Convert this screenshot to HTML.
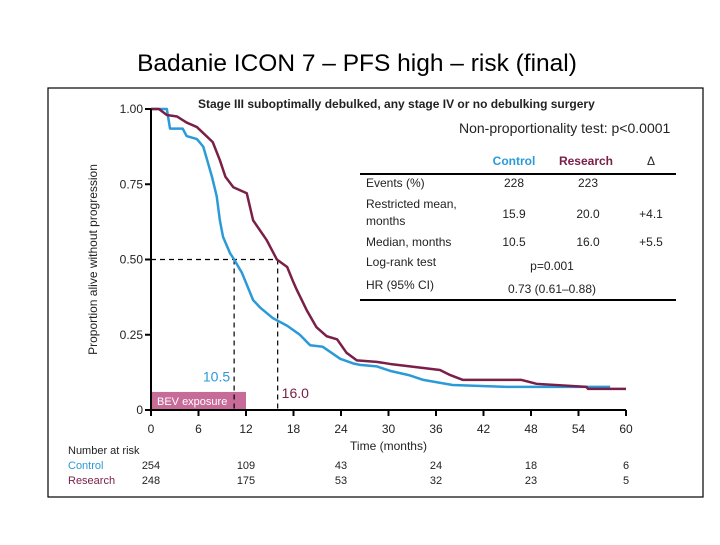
<!DOCTYPE html>
<html><head><meta charset="utf-8"><style>
body{margin:0;background:#fff;width:720px;height:540px;overflow:hidden;font-family:"Liberation Sans",Arial,sans-serif}
svg text{font-family:"Liberation Sans",Arial,sans-serif}
</style></head><body>
<svg id="c" width="720" height="540">
<text x="357" y="71" text-anchor="middle" font-size="24.5" fill="#000">Badanie ICON 7 – PFS high – risk (final)</text>
<rect x="48" y="88" width="655" height="409" fill="none" stroke="#000" stroke-width="1.2"/>
<g id="plot"></g>
</svg>
<script>
const xTicks=[0,6,12,18,24,30,36,42,48,54,60];
const yTicks=[0,0.25,0.5,0.75,1.0];
const yTickLabels=["0","0.25","0.50","0.75","1.00"];
const controlT=[0,2.0,2.4,4.0,4.5,5.8,6.6,7.1,7.7,8.3,8.7,9.1,10.0,10.5,11.5,12.9,13.8,15.4,17.2,18.8,20.1,21.7,23.9,25.5,26.4,28.5,30.2,32.7,34.4,38.1,44.9,58];
const controlS=[1.0,1.0,0.935,0.935,0.91,0.90,0.875,0.83,0.775,0.71,0.63,0.575,0.52,0.50,0.455,0.365,0.34,0.305,0.28,0.25,0.215,0.21,0.17,0.155,0.15,0.145,0.13,0.115,0.10,0.083,0.077,0.077];
const researchT=[0,1.0,2.0,3.3,4.5,5.8,6.6,7.8,8.7,9.4,10.4,12.1,12.9,14.6,15.9,17.2,17.9,18.4,19.7,20.9,22.2,23.5,24.7,26,28.5,30.2,32.7,36.5,37.8,39.4,46.8,48.7,55,55.2,60];
const researchS=[1.0,1.0,0.98,0.975,0.955,0.94,0.92,0.89,0.83,0.775,0.74,0.72,0.63,0.565,0.50,0.475,0.43,0.40,0.33,0.275,0.245,0.235,0.19,0.165,0.16,0.153,0.145,0.133,0.116,0.10,0.10,0.087,0.077,0.07,0.07];
const medians=[10.5,16.0];
const riskTimes=[0,12,24,36,48,60];
const riskControl=[254,109,43,24,18,6];
const riskResearch=[248,175,53,32,23,5];
const X=t=>151+t*(626-151)/60;
const Y=s=>410-s*301;
const NS="http://www.w3.org/2000/svg";
const g=document.getElementById('plot');
function mk(tag,attrs,txt){const e=document.createElementNS(NS,tag);for(const k in attrs)e.setAttribute(k,attrs[k]);if(txt!==undefined)e.textContent=txt;g.appendChild(e);return e;}
let e=mk('rect',{x:X(0),y:Y(0.06),width:X(12)-X(0),height:Y(0)-Y(0.06),fill:'#c76b98'});


e=mk('text',{x:X(0)+6,y:Y(0)-5,'font-size':11,fill:'#fff'},'BEV exposure');


e=mk('path',{d:`M${X(0)} ${Y(0.5)}H${X(medians[1])}M${X(medians[0])} ${Y(0.5)}V${Y(0)}M${X(medians[1])} ${Y(0.5)}V${Y(0)}`,stroke:'#000','stroke-dasharray':'5,4',fill:'none','stroke-width':1.2});


e=mk('text',{x:X(medians[0])-4,y:Y(0.095),'font-size':14,fill:'#2a9ad8','text-anchor':'end'},medians[0].toFixed(1));


e=mk('text',{x:X(medians[1])+4,y:Y(0.04),'font-size':14,fill:'#7a2048'},medians[1].toFixed(1));


function line(T,S){let d=`M${X(T[0])} ${Y(S[0])}`;for(let i=1;i<T.length;i++){d+=`L${X(T[i])} ${Y(S[i])}`;}return d;}
e=mk('path',{d:line(controlT,controlS),stroke:'#2a9ad8','stroke-width':2.5,fill:'none','stroke-linejoin':'round'});


e=mk('path',{d:line(researchT,researchS),stroke:'#7a2048','stroke-width':2.5,fill:'none','stroke-linejoin':'round'});


e=mk('path',{d:`M${X(0)} ${Y(1)}V${Y(0)}H${X(60)}`,stroke:'#000','stroke-width':2,fill:'none'});


xTicks.forEach(t=>{
 let k=mk('line',{x1:X(t),x2:X(t),y1:Y(0),y2:Y(0)+6,stroke:'#000','stroke-width':2});
 
 
 k=mk('text',{x:X(t),y:Y(0)+23,'font-size':12,'text-anchor':'middle',fill:'#222'},String(t));
 
 
});
yTicks.forEach((v,i)=>{
 let k=mk('line',{x1:X(0)-6,x2:X(0),y1:Y(v),y2:Y(v),stroke:'#000','stroke-width':2});
 
 
 k=mk('text',{x:X(0)-8,y:Y(v)+4,'font-size':12,'text-anchor':'end',fill:'#222'},yTickLabels[i]);
 
 
});
e=mk('text',{x:0,y:0,'font-size':12,'text-anchor':'middle',fill:'#222',transform:`translate(97,${Y(0.5)}) rotate(-90)`},'Proportion alive without progression');


e=mk('text',{x:X(30),y:450,'font-size':12,'text-anchor':'middle',fill:'#222'},'Time (months)');


e=mk('text',{x:68,y:454,'font-size':11,fill:'#222'},'Number at risk');


e=mk('text',{x:68,y:469,'font-size':11,fill:'#2a9ad8'},'Control');


e=mk('text',{x:68,y:484,'font-size':11,fill:'#7a2048'},'Research');


riskTimes.forEach((t,i)=>{
 let k=mk('text',{x:X(t),y:469,'font-size':11,'text-anchor':'middle',fill:'#222'},String(riskControl[i]));
 
 
 k=mk('text',{x:X(t),y:484,'font-size':11,'text-anchor':'middle',fill:'#222'},String(riskResearch[i]));
 
 
});
e=mk('text',{x:198,y:108,'font-size':12,'font-weight':'bold',fill:'#222'},'Stage III suboptimally debulked, any stage IV or  no debulking surgery');


e=mk('text',{x:459,y:133,'font-size':14,fill:'#222'},'Non-proportionality test: p<0.0001');


const rows=[['Events (%)','228','223','',187],['Restricted mean,','15.9','20.0','+4.1',208],['Median, months','10.5','16.0','+5.5',246],['Log-rank test','','','',266],['HR (95% CI)','','','',289]];
e=mk('text',{x:514,y:165,'font-size':12,'font-weight':'bold',fill:'#2a9ad8','text-anchor':'middle'},'Control');


e=mk('text',{x:586,y:165,'font-size':12,'font-weight':'bold',fill:'#7a2048','text-anchor':'middle'},'Research');


e=mk('text',{x:651,y:165,'font-size':12,fill:'#222','text-anchor':'middle'},'Δ');


e=mk('path',{d:'M360 174H676M360 300H676',stroke:'#000','stroke-width':2});


rows.forEach(r=>{
 const dy=r[0][0]==='R'?10:0;
 let k=mk('text',{x:366,y:r[4],'font-size':12,fill:'#222'},r[0]);
 
 
 k=mk('text',{x:514,y:r[4]+dy,'font-size':12,fill:'#222','text-anchor':'middle'},r[1]);
 
 
 k=mk('text',{x:588,y:r[4]+dy,'font-size':12,fill:'#222','text-anchor':'middle'},r[2]);
 
 
 k=mk('text',{x:651,y:r[4]+dy,'font-size':12,fill:'#222','text-anchor':'middle'},r[3]);
 
 
});
e=mk('text',{x:366,y:225,'font-size':12,fill:'#222'},'months');


e=mk('text',{x:552,y:270,'font-size':12,fill:'#222','text-anchor':'middle'},'p=0.001');


e=mk('text',{x:552,y:293,'font-size':12,fill:'#222','text-anchor':'middle'},'0.73 (0.61–0.88)');


</script>
</body></html>
